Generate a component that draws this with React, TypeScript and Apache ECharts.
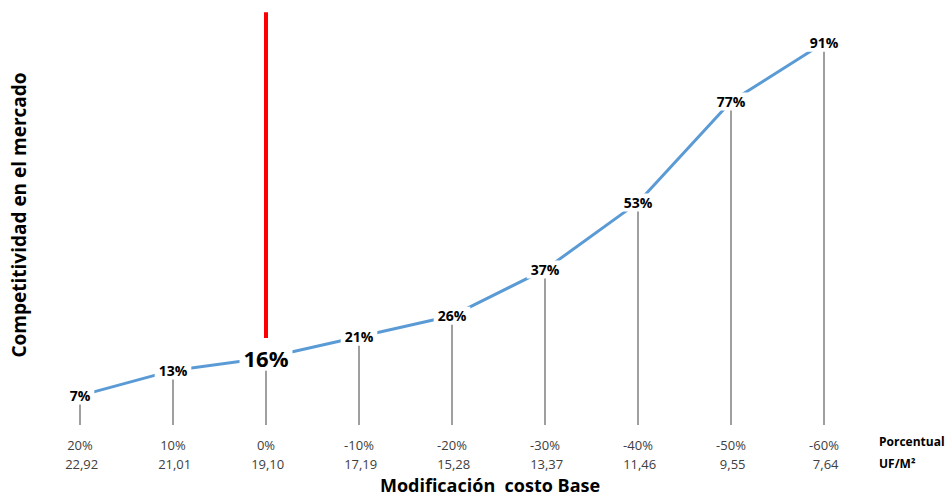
import React, { useEffect, useRef } from "react";
import * as echarts from "echarts";

const percentLabels = ["20%", "10%", "0%", "-10%", "-20%", "-30%", "-40%", "-50%", "-60%"];
const ufLabels = ["22,92", "21,01", "19,10", "17,19", "15,28", "13,37", "11,46", "9,55", "7,64"];
const competitiveness = [7, 13, 16, 21, 26, 37, 53, 77, 91];
const highlightIndex = 2;
const redLineRange = [98.3, 20.7];
const xTitle = "Modificación  costo Base";
const yTitle = "Competitividad en el mercado";

const FONT = "'Open Sans', sans-serif";

export default function App() {
  const ref = useRef<HTMLDivElement>(null);
  useEffect(() => {
    document.body.style.margin = "0";
    if (!ref.current) return;
    const chart = echarts.init(ref.current, undefined, { renderer: "svg" });
    const lineData = competitiveness.map((v, i) =>
      i === highlightIndex
        ? { value: v, label: { fontSize: 22, padding: [2, 4] } }
        : v
    );
    chart.setOption({
      animation: false,
      textStyle: { fontFamily: FONT },
      grid: { left: 33.5, right: 77.5, top: 5, bottom: 73 },
      xAxis: {
        type: "category",
        data: percentLabels,
        boundaryGap: true,
        axisLine: { show: false },
        axisTick: { show: false },
        axisLabel: {
          margin: 10,
          color: "#404040",
          fontSize: 13,
          lineHeight: 19,
          fontFamily: FONT,
          formatter: (v: string, i: number) => `${v}\n ${ufLabels[i]}`,
        },
      },
      yAxis: {
        type: "value",
        min: 0,
        max: 100,
        show: true,
        axisLine: { show: false },
        axisTick: { show: false },
        axisLabel: { show: false },
        splitLine: { show: false },
        name: yTitle,
        nameLocation: "middle",
        nameGap: 5,
        nameRotate: 90,
        nameTextStyle: { fontSize: 19, fontWeight: "bold", color: "#000", fontFamily: FONT },
      },
      series: [
        {
          type: "bar",
          data: competitiveness,
          barWidth: 1.5,
          itemStyle: { color: "#7f7f7f" },
          silent: true,
          z: 1,
        },
        {
          type: "line",
          data: lineData,
          symbol: "circle",
          symbolSize: 0.1,
          itemStyle: { color: "#5B9BD5" },
          lineStyle: { color: "#5B9BD5", width: 3 },
          z: 3,
          label: {
            show: true,
            position: "inside",
            formatter: "{c}%",
            fontSize: 14,
            fontWeight: "bold",
            color: "#000",
            fontFamily: FONT,
            backgroundColor: "#fff",
            padding: [2, 4],
          },
          markLine: {
            silent: true,
            symbol: "none",
            label: { show: false },
            lineStyle: { color: "#FF0000", width: 4, type: "solid" },
            data: [
              [
                { coord: [percentLabels[highlightIndex], redLineRange[0]] },
                { coord: [percentLabels[highlightIndex], redLineRange[1]] },
              ],
            ],
          },
        },
      ],
      graphic: [
        {
          type: "text",
          x: 490,
          y: 485,
          style: {
            text: xTitle,
            fontSize: 18,
            fontWeight: "bold",
            fill: "#000",
            fontFamily: FONT,
            align: "center",
            verticalAlign: "middle",
          },
        },
        {
          type: "text",
          left: 879,
          top: 435,
          style: { text: "Porcentual", fontSize: 12, fontWeight: "bold", fill: "#000", fontFamily: FONT },
        },
        {
          type: "text",
          left: 879,
          top: 457,
          style: { text: "UF/M²", fontSize: 12, fontWeight: "bold", fill: "#000", fontFamily: FONT },
        },
      ],
    });
    return () => chart.dispose();
  }, []);
  return <div ref={ref} style={{ width: 948, height: 498 }} />;
}
